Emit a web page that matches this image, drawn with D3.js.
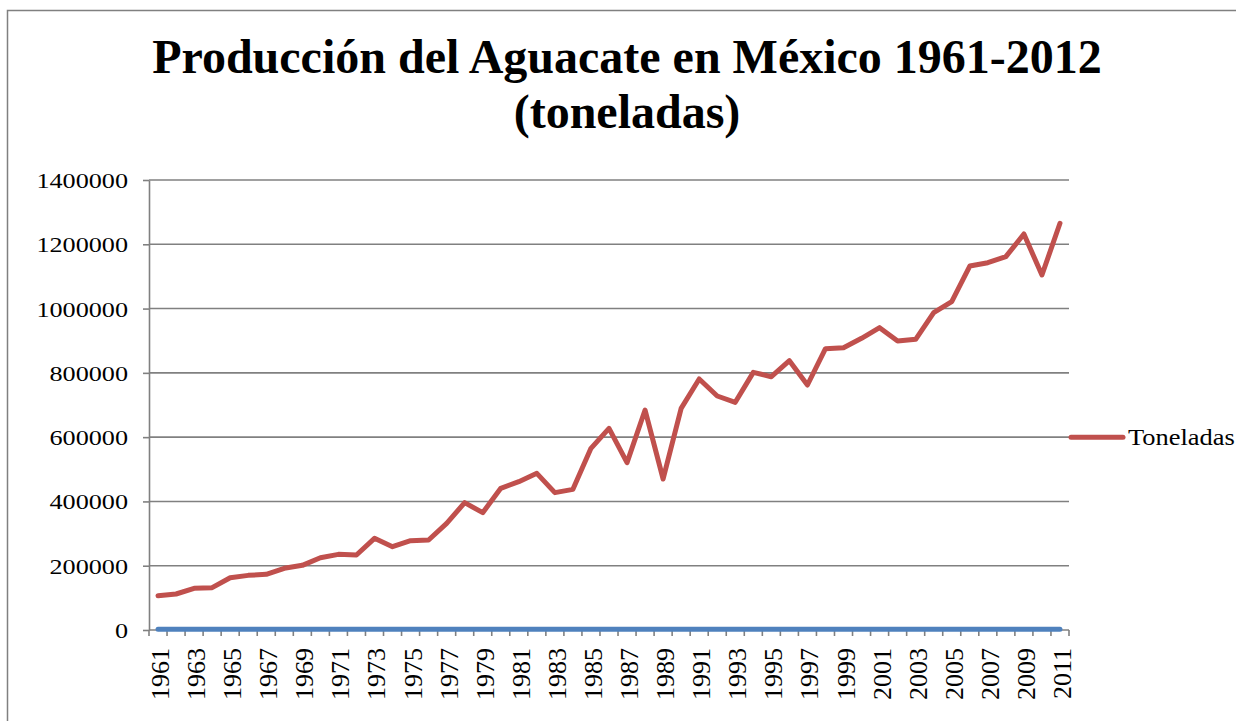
<!DOCTYPE html>
<html>
<head>
<meta charset="utf-8">
<script src="https://cdn.jsdelivr.net/npm/d3@7"></script>
<style>
  body { margin: 0; background: #fff; }
  svg text { font-family: 'Liberation Serif', 'Times New Roman', serif !important; fill: #000; }
</style>
</head>
<body>
<div id="chart"></div>
<script>
const width = 1236
const height = 721
const margin = { left: 149, right: 167, top: 180, bottom: 91 }

// data
const years = [
  1961, 1962, 1963, 1964, 1965, 1966, 1967, 1968, 1969, 1970,
  1971, 1972, 1973, 1974, 1975, 1976, 1977, 1978, 1979, 1980,
  1981, 1982, 1983, 1984, 1985, 1986, 1987, 1988, 1989, 1990,
  1991, 1992, 1993, 1994, 1995, 1996, 1997, 1998, 1999, 2000,
  2001, 2002, 2003, 2004, 2005, 2006, 2007, 2008, 2009, 2010, 2011
]
const toneladas = [
  106700, 112000, 129700, 131700, 162700, 170000, 173200, 191900, 201200, 225000,
  235400, 233300, 285200, 259300, 277900, 280000, 331900, 396100, 365000, 440800,
  461500, 487400, 427300, 437600, 565200, 627400, 520600, 684400, 469800, 689600,
  780900, 728000, 708300, 801600, 788000, 838000, 762200, 875300, 878400, 907400,
  940600, 899100, 904300, 987200, 1021500, 1132400, 1142800, 1161500, 1232000, 1104400,
  1265300
]
// second series of the sheet (the year column), lies on the baseline
const anio = years
const yTicks = [0, 200000, 400000, 600000, 800000, 1000000, 1200000, 1400000]
const titleLines = ['Producción del Aguacate en México 1961-2012', '(toneladas)']
const seriesName = 'Toneladas'

const gridColor = '#808080'

const svg = d3.select('#chart')
  .append('svg')
    .attr('width', width)
    .attr('height', height)

// chart border
svg.append('rect')
  .attr('x', 7.5)
  .attr('y', 10.5)
  .attr('width', 1260)
  .attr('height', 760)
  .attr('fill', 'none')
  .attr('stroke', gridColor)
  .attr('stroke-width', 1.5)

let x_scale = d3.scaleBand()
  .domain(years)
  .range([margin.left, width - margin.right])
let y_scale = d3.scaleLinear()
  .domain([0, 1400000])
  .range([height - margin.bottom, margin.top])

// title
svg.append('g')
  .selectAll('text')
  .data(titleLines)
  .enter().append('text')
    .attr('x', 627)
    .attr('y', (d, i) => 73 + i * 55)
    .attr('text-anchor', 'middle')
    .style('font-size', '48px')
    .style('font-weight', 'bold')
    .text(d => d)

// gridlines
svg.append('g')
  .selectAll('line')
  .data(yTicks.slice(1))
  .enter().append('line')
    .attr('x1', margin.left)
    .attr('x2', width - margin.right)
    .attr('y1', d => y_scale(d))
    .attr('y2', d => y_scale(d))
    .attr('stroke', gridColor)
    .attr('stroke-width', 1.6)

// y axis
svg.append('g')
  .attr('transform', `translate(${margin.left},0)`)
  .call(d3.axisLeft(y_scale).tickValues(yTicks).tickSize(6).tickSizeOuter(0).tickFormat(d => d))
  .call(g => g.selectAll('.domain').attr('stroke', gridColor).attr('stroke-width', 1.6))
  .call(g => g.selectAll('.tick line').attr('stroke', gridColor).attr('stroke-width', 1.6))
  .call(g => g.selectAll('.tick text')
    .attr('x', null).attr('dy', null)
    .attr('transform', 'translate(-21,7.5) scale(1.19,1)')
    .style('font-size', '22px')
    .attr('fill', '#000'))

// x axis
const x_axis = svg.append('g')
  .attr('transform', `translate(0,${height - margin.bottom})`)
x_axis.append('line')
  .attr('x1', margin.left)
  .attr('x2', width - margin.right)
  .attr('stroke', gridColor)
  .attr('stroke-width', 1.6)
x_axis.selectAll('.tick')
  .data(years.concat([null]))
  .enter().append('line')
    .attr('class', 'tick')
    .attr('x1', (d, i) => margin.left + i * x_scale.step())
    .attr('x2', (d, i) => margin.left + i * x_scale.step())
    .attr('y1', 0)
    .attr('y2', 6)
    .attr('stroke', gridColor)
    .attr('stroke-width', 1.6)
x_axis.selectAll('.label')
  .data(years.filter((d, i) => i % 2 === 0))
  .enter().append('text')
    .attr('class', 'label')
    .attr('transform', d => `translate(${x_scale(d) + x_scale.bandwidth() / 2 + 11},18) rotate(-90)`)
    .attr('text-anchor', 'end')
    .style('font-size', '26px')
    .text(d => d)

const line = d3.line()
  .x((d, i) => x_scale(years[i]) + x_scale.bandwidth() / 2)
  .y(d => y_scale(d))

// year series on the baseline
svg.append('path')
  .datum(anio)
  .attr('d', line)
  .attr('fill', 'none')
  .attr('stroke', '#4F81BD')
  .attr('stroke-width', 5)
  .attr('stroke-linecap', 'round')
  .attr('stroke-linejoin', 'round')

// production line
svg.append('path')
  .datum(toneladas)
  .attr('d', line)
  .attr('fill', 'none')
  .attr('stroke', '#C0504D')
  .attr('stroke-width', 5)
  .attr('stroke-linecap', 'round')
  .attr('stroke-linejoin', 'round')

// legend
const legend = svg.append('g')
  .attr('transform', `translate(1071,${y_scale(600000)})`)
legend.append('line')
  .attr('x1', 0)
  .attr('x2', 52)
  .attr('stroke', '#C0504D')
  .attr('stroke-width', 5)
  .attr('stroke-linecap', 'round')
legend.append('text')
  .attr('transform', 'translate(57,8) scale(1.15,1)')
  .style('font-size', '23px')
  .text(seriesName)
</script>
</body>
</html>
